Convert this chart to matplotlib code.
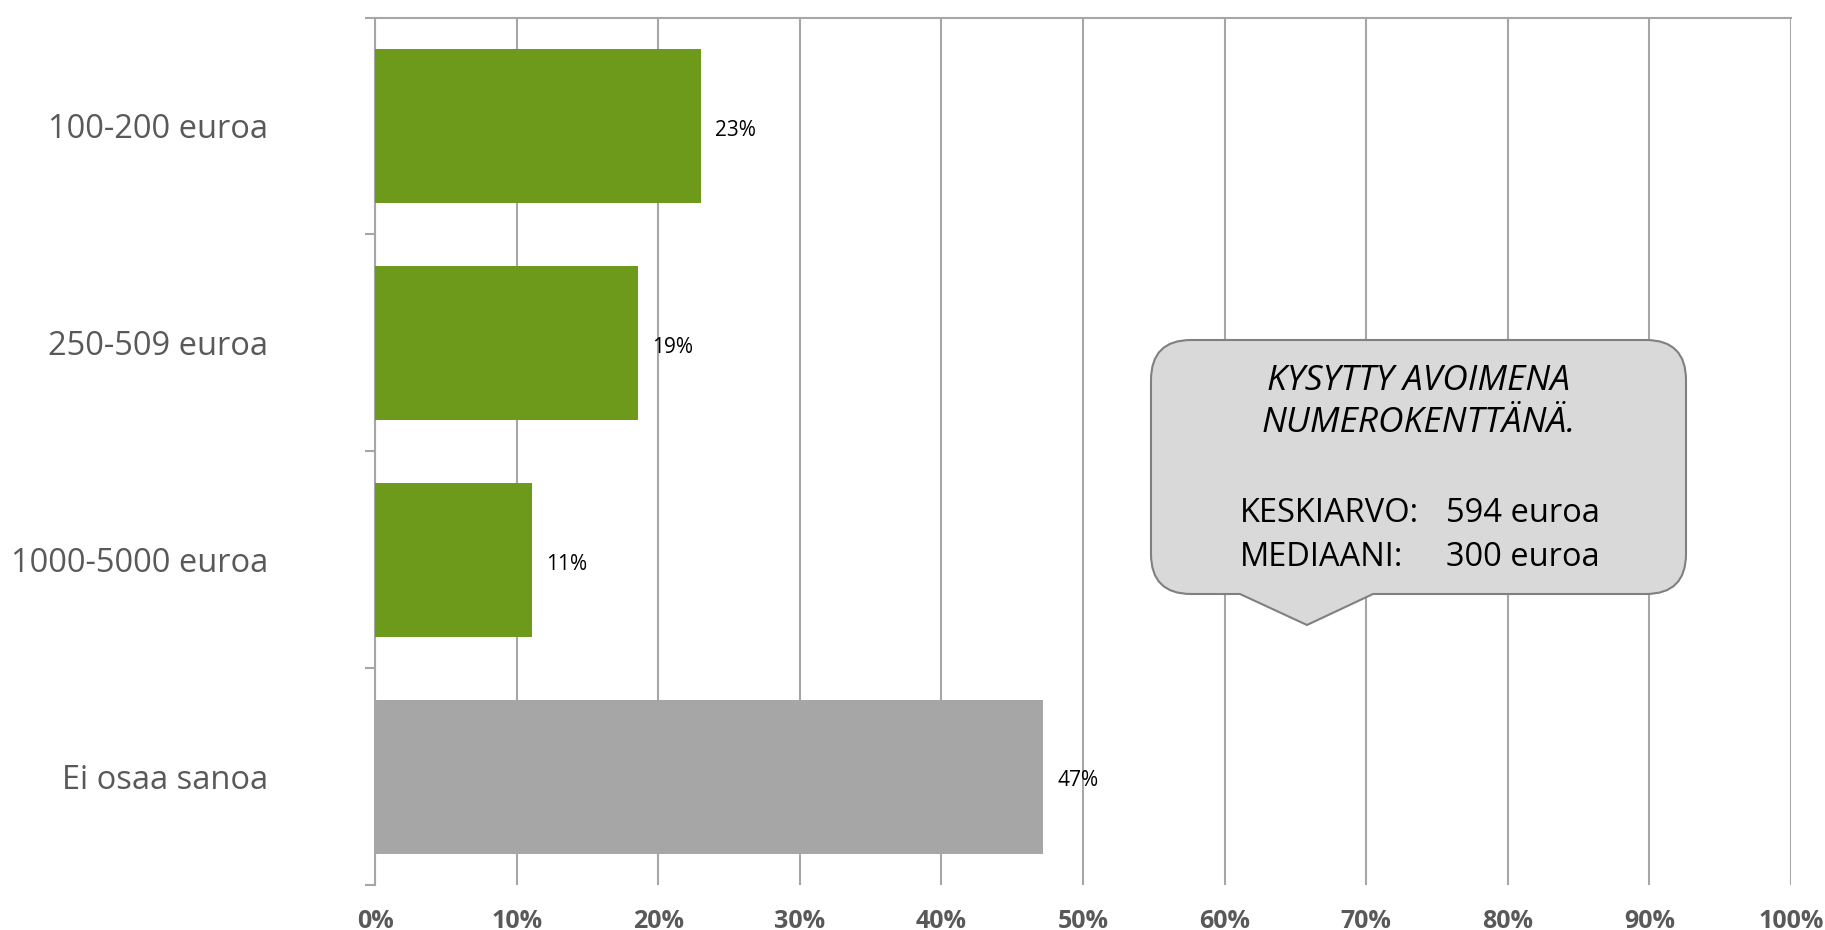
import numpy as np
import matplotlib.pyplot as plt
from matplotlib.path import Path
from matplotlib.patches import PathPatch

plt.rcParams['font.family'] = ['Open Sans', 'DejaVu Sans']

categories = ["100-200 euroa", "250-509 euroa", "1000-5000 euroa", "Ei osaa sanoa"]
values = [23.0, 18.6, 11.1, 47.2]
labels = ["23%", "19%", "11%", "47%"]
bar_colors = ["#6E9A1C", "#6E9A1C", "#6E9A1C", "#A6A6A6"]
xticks = np.arange(0, 101, 10)

callout_title = "KYSYTTY AVOIMENA\nNUMEROKENTTÄNÄ."
stat_names = ["KESKIARVO:", "MEDIAANI:"]
stat_values = ["594 euroa", "300 euroa"]

grid_color = "#A6A6A6"
text_gray = "#595959"

fig = plt.figure(figsize=(18.25, 9.3), dpi=100)
ax = fig.add_axes([375 / 1825, 45 / 930, (1791 - 375) / 1825, (912.5 - 45) / 930])

y = np.arange(len(categories))
bars = ax.barh(y, values, height=0.71, color=bar_colors, zorder=3)
for b, lab in zip(bars, labels):
    ax.text(b.get_width() + 1.0, b.get_y() + b.get_height() / 2 + 0.02, lab,
            va="center", ha="left", fontsize=15, color="black")

ax.set_xlim(0, 100)
ax.set_ylim(len(categories) - 0.5, -0.5)
ax.set_xticks(xticks)
ax.set_xticklabels([f"{t}%" for t in xticks], fontsize=18, fontweight="bold", color=text_gray)
ax.tick_params(axis="x", length=0, pad=17)
ax.grid(axis="x", color=grid_color, linewidth=1.5, zorder=0)

ax.set_yticks(y)
ax.set_yticklabels(categories, fontsize=23.5, color=text_gray)
ax.tick_params(axis="y", length=0, pad=77)
ax.set_yticks(np.arange(len(categories) + 1) - 0.5, minor=True)
ax.tick_params(axis="y", which="minor", length=7, width=1.5, color=grid_color)

for s in ["right", "bottom"]:
    ax.spines[s].set_visible(False)
for s in ["left", "top"]:
    ax.spines[s].set_color(grid_color)
    ax.spines[s].set_linewidth(1.5)

# callout box (figure pixels, y up)
x0, x1, y0, y1, r = 1151, 1686, 336, 590, 40
px0, px1, tipx, tipy = 1240, 1373, 1307, 305
verts = [
    (x0 + r, y0), (px0, y0), (tipx, tipy), (px1, y0), (x1 - r, y0),
    (x1, y0), (x1, y0 + r),
    (x1, y1 - r),
    (x1, y1), (x1 - r, y1),
    (x0 + r, y1),
    (x0, y1), (x0, y1 - r),
    (x0, y0 + r),
    (x0, y0), (x0 + r, y0),
    (x0 + r, y0),
]
codes = [Path.MOVETO, Path.LINETO, Path.LINETO, Path.LINETO, Path.LINETO,
         Path.CURVE3, Path.CURVE3,
         Path.LINETO,
         Path.CURVE3, Path.CURVE3,
         Path.LINETO,
         Path.CURVE3, Path.CURVE3,
         Path.LINETO,
         Path.CURVE3, Path.CURVE3,
         Path.CLOSEPOLY]
verts = [(vx / 100, vy / 100) for vx, vy in verts]
patch = PathPatch(Path(verts, codes), transform=fig.dpi_scale_trans,
                  facecolor="#D9D9D9", edgecolor="#808080", linewidth=1.5, zorder=5)
fig.patches.append(patch)

cx = (x0 + x1) / 2 / 1825
fig.text(cx, 1 - 402 / 930, callout_title, ha="center", va="center",
         fontsize=25.5, style="italic", color="black", linespacing=1.3, zorder=6)
for i, (n, v) in enumerate(zip(stat_names, stat_values)):
    yy = 1 - (513 + 44 * i) / 930
    fig.text(1240 / 1825, yy, n, ha="left", va="center", fontsize=23.5, color="black", zorder=6)
    fig.text(1446 / 1825, yy, v, ha="left", va="center", fontsize=23.5, color="black", zorder=6)

fig.savefig("out.png", dpi=100)
